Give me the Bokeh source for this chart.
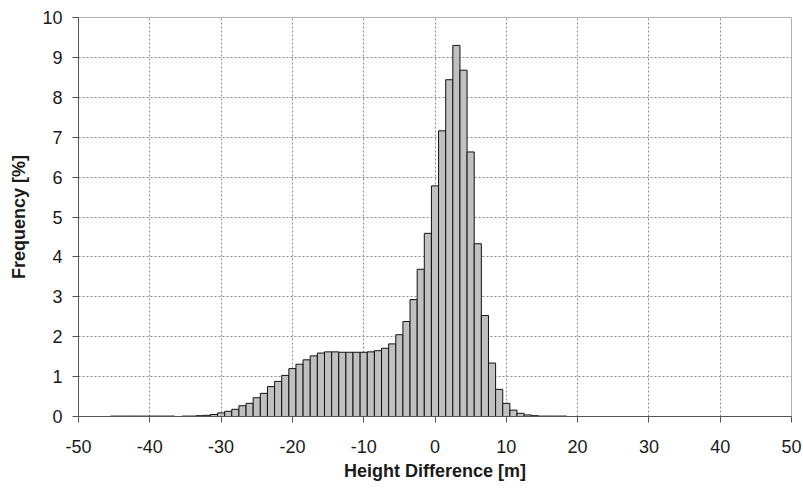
from bokeh.plotting import figure
from bokeh.embed import file_html
from bokeh.resources import INLINE
from bokeh.models import FixedTicker, Range1d, ColumnDataSource

# Histogram bins (bin centres, metres) and frequencies (%)
height_diff = list(range(-45, 19))
frequency = [
    0.01, 0.01, 0.01, 0.01, 0.01, 0.01, 0.01, 0.01, 0.01,   # -45 .. -37
    0.0,                                                    # -36
    0.01, 0.01, 0.02,                                       # -35 .. -33
    0.03, 0.05, 0.09, 0.13, 0.18, 0.27, 0.33, 0.47, 0.58,   # -32 .. -24
    0.75, 0.88, 1.03, 1.20, 1.31, 1.42, 1.52, 1.59, 1.62,   # -23 .. -15
    1.62, 1.61, 1.61, 1.61, 1.61, 1.62, 1.65, 1.71, 1.82,   # -14 .. -6
    2.05, 2.38, 2.93, 3.69, 4.59, 5.78, 7.16, 8.44, 9.30,   # -5 .. 3
    8.68, 6.63, 4.33, 2.53, 1.34, 0.68, 0.33, 0.16, 0.08,   # 4 .. 12
    0.04, 0.02, 0.01, 0.01, 0.01, 0.01,                     # 13 .. 18
]
x_ticks = list(range(-50, 51, 10))
x_tick_labels = [str(t) for t in x_ticks]   # plain hyphen minus, as in the original
y_ticks = list(range(0, 11))

src = ColumnDataSource(dict(x=height_diff, top=frequency))

p = figure(width=803, height=493, output_backend="svg", toolbar_location=None,
           x_range=Range1d(-50, 50), y_range=Range1d(0, 10),
           min_border_left=78, min_border_right=12, min_border_top=17, min_border_bottom=77)

p.vbar(x="x", top="top", width=1.0, source=src, fill_color="#c0c0c0",
       line_color="#111111", line_width=1)

p.outline_line_color = "#b0b0b0"
p.outline_line_width = 1

for ax in (p.xaxis[0], p.yaxis[0]):
    ax.axis_line_color = "#555555"
    ax.major_tick_line_color = "#555555"
    ax.minor_tick_line_color = None
    ax.major_tick_in = 0
    ax.major_tick_out = 6
    ax.major_label_text_font = "Liberation Sans"
    ax.major_label_text_font_size = "18px"
    ax.major_label_text_color = "#1a1a1a"
    ax.axis_label_text_font = "Liberation Sans"
    ax.axis_label_text_font_size = "18px"
    ax.axis_label_text_font_style = "bold"
    ax.axis_label_text_color = "#1a1a1a"

p.xaxis.ticker = FixedTicker(ticks=x_ticks)
p.xaxis.major_label_overrides = {t: lab for t, lab in zip(x_ticks, x_tick_labels)}
p.yaxis.ticker = FixedTicker(ticks=y_ticks)
p.xaxis.axis_label = "Height Difference [m]"
p.yaxis.axis_label = "Frequency [%]"
p.xaxis.major_label_standoff = 17
p.yaxis.major_label_standoff = 10
p.xaxis.axis_label_standoff = 5
p.yaxis.axis_label_standoff = 10

p.xgrid.ticker = FixedTicker(ticks=list(range(-40, 41, 10)))
p.ygrid.ticker = FixedTicker(ticks=list(range(1, 10)))
for g in (p.xgrid[0], p.ygrid[0]):
    g.grid_line_color = "#8c8c8c"
    g.grid_line_dash = "2 2"
    g.grid_line_width = 1

p.background_fill_color = "white"
p.border_fill_color = "white"

open("out.html", "w").write(file_html(p, INLINE))
